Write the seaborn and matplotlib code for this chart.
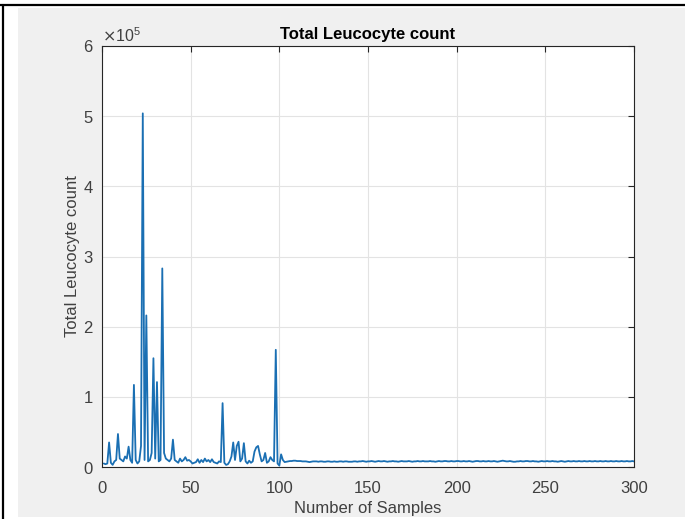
import matplotlib
matplotlib.use("Agg")
import matplotlib.pyplot as plt
import matplotlib.ticker as mticker
from matplotlib.patches import Rectangle
from matplotlib.lines import Line2D
import seaborn as sns
import pandas as pd

# Total leucocyte count per sample (in thousands), samples 1..104
head_k = [5, 4, 5, 35, 6, 3, 8, 10, 47, 12,
          10, 8, 15, 12, 29, 10, 6, 117, 10, 5,
          8, 30, 504, 10, 216, 8, 10, 20, 155, 12,
          121, 8, 10, 283, 20, 12, 10, 8, 12, 39,
          10, 8, 6, 12, 8, 10, 14, 9, 10, 8,
          5, 6, 7, 11, 6, 10, 7, 12, 8, 10,
          7, 11, 7, 6, 5, 8, 7, 91, 6, 3,
          4, 8, 15, 35, 10, 30, 36, 8, 12, 34,
          8, 5, 9, 6, 8, 22, 28, 30, 18, 8,
          10, 20, 6, 8, 14, 10, 8, 167, 5, 2,
          18, 10, 7, 7.5]
# samples 105..300 (in thousands)
tail_k = [8, 8.5, 8.5, 9, 9, 8.5, 8.5, 8.5, 8, 8,
          8, 7.5, 7, 7.5, 8, 8, 8, 7.5, 8, 8,
          7.5, 7.5, 8, 8, 7.5, 7.5, 8, 7.5, 7.5, 8,
          8, 7.5, 8, 8, 7.5, 7.5, 7.5, 8, 8, 7.5,
          8, 8, 8.5, 8, 7.5, 8, 8, 8.5, 8, 7.5,
          8, 8.5, 8, 8, 8.5, 8, 7.5, 8, 8, 8.5,
          8, 8, 7.5, 8, 8.5, 8, 8, 8, 8.5, 8,
          7.5, 8, 8, 8.5, 8, 8, 8.5, 8, 8, 8,
          8.5, 8, 8, 7.5, 8, 8.5, 8, 8, 8.5, 8.5,
          8, 8, 8.5, 8, 8, 8.5, 8.5, 8, 8, 8.5,
          8, 8, 8.5, 8, 7.5, 8, 8.5, 8.5, 8, 8,
          8.5, 8, 8, 8.5, 8, 8, 8.5, 8, 7.5, 8,
          8.5, 9, 8.5, 8, 8, 8.5, 8, 7.5, 7.5, 8,
          8, 8.5, 8, 8, 8.5, 8.5, 8, 8, 8.5, 8,
          8, 7.5, 8, 8.5, 8, 8, 8.5, 8, 8, 8.5,
          8, 8, 7.5, 8, 8.5, 8, 7.5, 8, 8.5, 8,
          8, 8.5, 8, 8, 8.5, 8, 8, 8.5, 8, 8,
          8.5, 8, 8, 8.5, 8, 8, 8.5, 8, 8, 8.5,
          8, 8, 8.5, 8, 8, 8.5, 8, 8, 8.5, 8,
          8, 8.5, 8, 8, 8.5, 8]

values_k = head_k + tail_k
samples = list(range(1, len(values_k) + 1))
counts = [v * 1000 for v in values_k]

x_ticks = [0, 50, 100, 150, 200, 250, 300]
y_ticks = [0, 1e5, 2e5, 3e5, 4e5, 5e5, 6e5]

title = "Total Leucocyte count"
xlabel = "Number of Samples"
ylabel = "Total Leucocyte count"

df = pd.DataFrame({"Sample": samples, "Count": counts})

sns.set_style("white")
plt.rcParams["font.family"] = ["Liberation Sans", "DejaVu Sans"]

W, H = 685, 519
fig = plt.figure(figsize=(W / 100, H / 100), dpi=100)
fig.patch.set_facecolor("white")
# gray figure region and black frame lines
fig.add_artist(Rectangle((18 / W, 2 / H), 1 - 18 / W, 1 - 10 / H,
                         transform=fig.transFigure, facecolor="#f0f0f0",
                         edgecolor="none", zorder=-10))
fig.add_artist(Line2D([0, 1], [1 - 5 / H, 1 - 5 / H], transform=fig.transFigure,
                      color="black", lw=1.6))
fig.add_artist(Line2D([3 / W, 3 / W], [0, 1 - 5 / H], transform=fig.transFigure,
                      color="black", lw=1.6))

ax = fig.add_axes([102 / W, 1 - 467 / H, 532 / W, 421 / H])
ax.set_facecolor("white")
sns.lineplot(data=df, x="Sample", y="Count", ax=ax, color="#1a6fb3", lw=1.3)

ax.set_xlim(0, 300)
ax.set_ylim(0, 6e5)
ax.set_xticks(x_ticks)
ax.set_yticks(y_ticks)
fmt = mticker.ScalarFormatter(useMathText=True)
fmt.set_powerlimits((0, 0))
ax.yaxis.set_major_formatter(fmt)
ax.yaxis.get_offset_text().set_fontsize(11.5)
ax.yaxis.get_offset_text().set_color("#404040")

ax.grid(True, color="#e3e3e3", lw=0.8)
ax.set_axisbelow(True)
for s in ax.spines.values():
    s.set_visible(True)
    s.set_color("#262626")
    s.set_linewidth(0.8)
ax.tick_params(direction="in", length=4, width=0.8, colors="#262626",
               labelsize=12, top=True, right=True, labelcolor="#404040")
ax.tick_params(axis="x", pad=10)
ax.tick_params(axis="y", pad=6)

ax.set_title(title, fontsize=12, fontweight="bold", color="black", pad=5)
ax.set_xlabel(xlabel, fontsize=12, color="#404040", labelpad=4)
ax.set_ylabel(ylabel, fontsize=12, color="#404040", labelpad=2)

fig.savefig("out.png", dpi=100, facecolor=fig.get_facecolor())
